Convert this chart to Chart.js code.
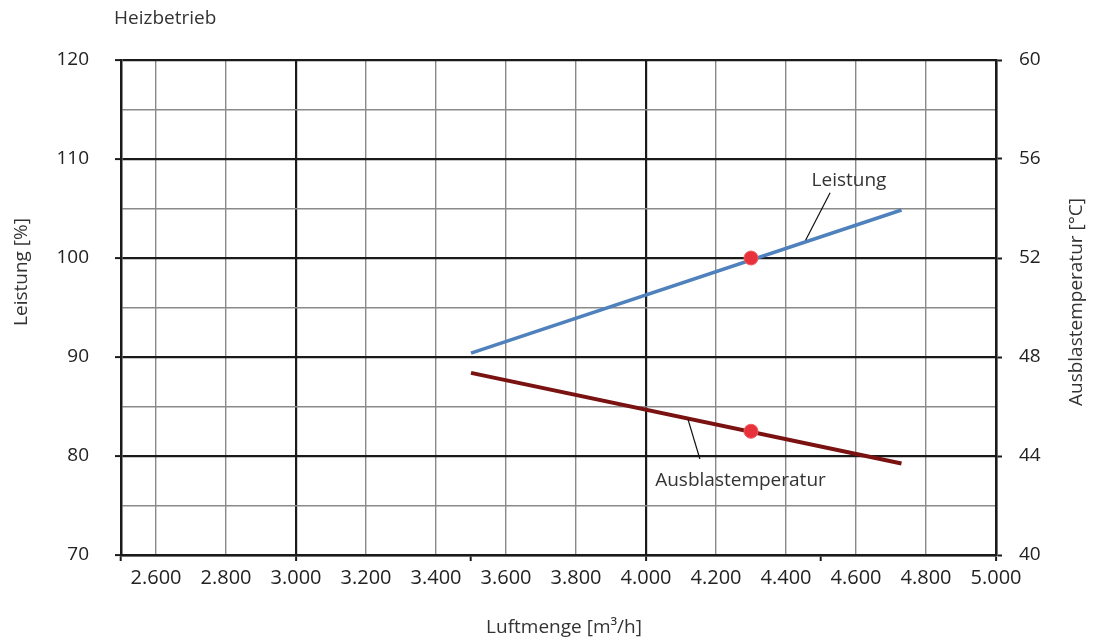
<!DOCTYPE html>
<html>
<head>
<meta charset="UTF-8">
<title>Heizbetrieb</title>
<script src="https://cdn.jsdelivr.net/npm/chart.js@4.4.1/dist/chart.umd.min.js"></script>
<style>
  body { margin: 0; background: #fff; }
  .chart-container { position: relative; width: 1095px; height: 644px; }
</style>
</head>
<body>
<div class="chart-container">
  <canvas id="chart"></canvas>
</div>

<script>
// Luftmenge [m³/h]
const luftmenge = [3500, 4730]
// Leistung [%] (linke Achse)
const leistung = [90.4, 104.85]
// Ausblastemperatur [°C] (rechte Achse)
const ausblastemperatur = [47.36, 43.7]
// Nennpunkt
const nennLuftmenge = 4300
const nennLeistung = 100
const nennTemperatur = 45.0

// annotations (data coordinates on left axis)
const labelLeistung = { text: 'Leistung', x: 4580, y: 107.8, from: [4526, 106.6], to: [4456, 101.8] }
const labelAusblas = { text: 'Ausblastemperatur', x: 4270, y: 77.5, from: [4120, 83.7], to: [4154, 79.7] }

const FONT = "'Open Sans', 'Noto Sans', sans-serif"
const BLACK = '#1a1a1a'
const GRAY = '#8a8a8a'

function fmt(v) {
  return String(v).replace(/(\d)(\d{3})$/, '$1.$2')
}

const textPlugin = {
  id: 'texts',
  afterDraw(chart) {
    const c = chart.ctx
    const x = chart.scales.x, y = chart.scales.y
    c.save()
    c.fillStyle = '#333'
    c.font = '19px ' + FONT
    c.textBaseline = 'middle'
    c.textAlign = 'left'
    c.fillText('Heizbetrieb', 114, 19)

    c.textAlign = 'center'
    c.fillText('Luftmenge [m³/h]', 564, 628)

    c.save()
    c.translate(22, 272)
    c.rotate(-Math.PI / 2)
    c.fillText('Leistung [%]', 0, 0)
    c.restore()

    c.save()
    c.translate(1077, 302)
    c.rotate(-Math.PI / 2)
    c.fillText('Ausblastemperatur [°C]', 0, 0)
    c.restore()

    // labels with leader lines
    for (const l of [labelLeistung, labelAusblas]) {
      c.strokeStyle = '#111'
      c.lineWidth = 1.2
      c.beginPath()
      c.moveTo(x.getPixelForValue(l.from[0]), y.getPixelForValue(l.from[1]))
      c.lineTo(x.getPixelForValue(l.to[0]), y.getPixelForValue(l.to[1]))
      c.stroke()
      c.fillStyle = '#333'
      c.fillText(l.text, x.getPixelForValue(l.x), y.getPixelForValue(l.y))
    }
    c.restore()
  }
}

const ctx = document.querySelector('#chart').getContext('2d')
const chart = new Chart(ctx, {
  type: 'line',
  data: {
    datasets: [
      {
        label: 'Nennpunkt Leistung',
        data: [{ x: nennLuftmenge, y: nennLeistung }],
        yAxisID: 'y',
        showLine: false,
        pointRadius: 7,
        pointBackgroundColor: '#e8323b',
        pointBorderColor: '#f05a62',
        pointBorderWidth: 1
      },
      {
        label: 'Nennpunkt Temperatur',
        data: [{ x: nennLuftmenge, y: nennTemperatur }],
        yAxisID: 'y2',
        showLine: false,
        pointRadius: 7,
        pointBackgroundColor: '#e8323b',
        pointBorderColor: '#f05a62',
        pointBorderWidth: 1
      },
      {
        label: 'Leistung',
        data: luftmenge.map((v, i) => ({ x: v, y: leistung[i] })),
        yAxisID: 'y',
        borderColor: '#4f81bd',
        borderWidth: 3.5,
        pointRadius: 0
      },
      {
        label: 'Ausblastemperatur',
        data: luftmenge.map((v, i) => ({ x: v, y: ausblastemperatur[i] })),
        yAxisID: 'y2',
        borderColor: '#7a1212',
        borderWidth: 4,
        pointRadius: 0
      }
    ]
  },
  options: {
    responsive: true,
    maintainAspectRatio: false,
    animation: false,
    layout: { padding: { top: 60, left: 0, right: 0, bottom: 0 } },
    plugins: {
      legend: { display: false },
      tooltip: { enabled: false }
    },
    scales: {
      x: {
        type: 'linear',
        min: 2500,
        max: 5000,
        afterFit: s => { s.height = 89 },
        ticks: {
          stepSize: 100,
          autoSkip: false,
          maxRotation: 0,
          padding: 5,
          color: '#222',
          font: { family: FONT, size: 20 },
          callback: v => (v % 200 === 0 ? fmt(v) : '')
        },
        grid: {
          color: c => c.tick.value % 1000 === 0 ? BLACK : (c.tick.value % 200 === 0 ? GRAY : 'rgba(0,0,0,0)'),
          lineWidth: c => c.tick.value % 1000 === 0 ? 2.2 : 1.4,
          tickColor: c => c.tick.value % 500 === 0 ? BLACK : 'rgba(0,0,0,0)',
          tickWidth: 2,
          tickLength: 6
        },
        border: { display: true, color: BLACK, width: 2.5 }
      },
      y: {
        position: 'left',
        min: 70,
        max: 120,
        afterFit: s => { s.width = 121 },
        ticks: {
          stepSize: 5,
          padding: 26,
          color: '#222',
          font: { family: FONT, size: 19 },
          callback: v => (v % 10 === 0 ? String(v) : '')
        },
        grid: {
          color: c => c.tick.value % 10 === 0 ? BLACK : GRAY,
          lineWidth: c => c.tick.value % 10 === 0 ? 2.2 : 1.4,
          tickColor: c => c.tick.value % 10 === 0 ? BLACK : 'rgba(0,0,0,0)',
          tickWidth: 2,
          tickLength: 6
        },
        border: { display: true, color: BLACK, width: 2.5 }
      },
      y2: {
        position: 'right',
        min: 40,
        max: 60,
        afterFit: s => { s.width = 99 },
        ticks: {
          stepSize: 4,
          padding: 17,
          color: '#222',
          font: { family: FONT, size: 19 }
        },
        grid: {
          drawOnChartArea: false,
          color: BLACK,
          tickWidth: 2,
          tickLength: 6
        },
        border: { display: true, color: BLACK, width: 2.5 }
      }
    }
  },
  plugins: [textPlugin]
})
</script>
</body>
</html>
